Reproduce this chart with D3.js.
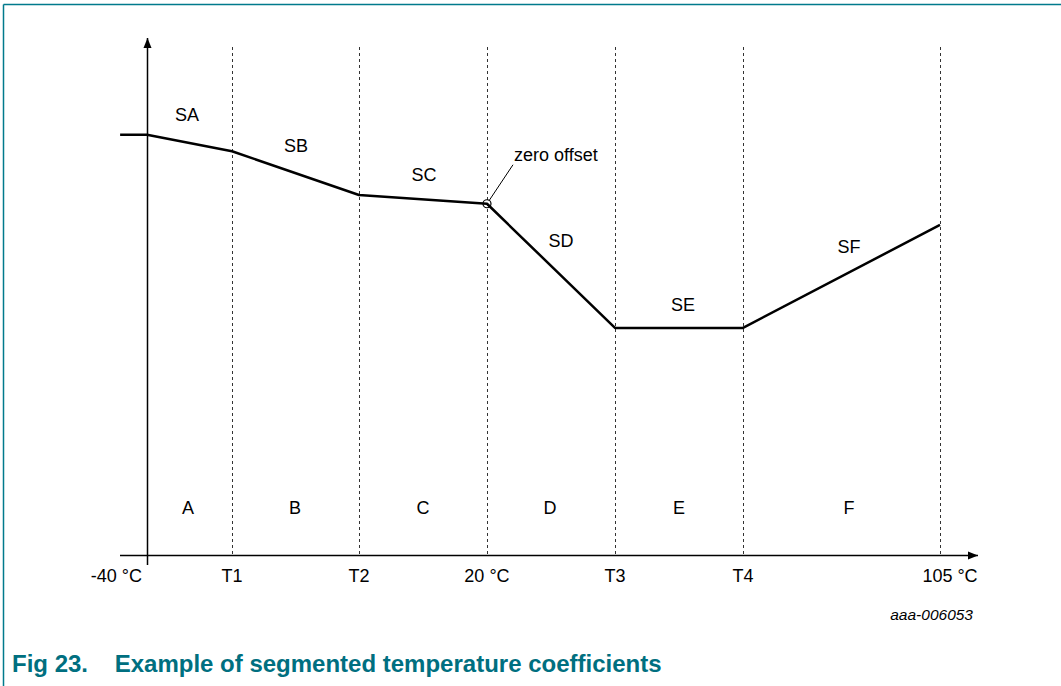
<!DOCTYPE html>
<html>
<head>
<meta charset="utf-8">
<script src="https://cdn.jsdelivr.net/npm/d3@7"></script>
<style>
  body { margin: 0; background: #fff; }
  svg { display: block; font-family: "Liberation Sans", Arial, sans-serif; }
</style>
</head>
<body>
<svg width="1061" height="686"></svg>
<script>
// breakpoints along the temperature axis (relative units) and their labels
var tickLabels = ["-40 °C", "T1", "T2", "20 °C", "T3", "T4", "105 °C"];
var tickPos = [0, 0.664, 1.656, 2.656, 3.656, 4.656, 6.195];

// segment regions and slope names
var regions = ["A", "B", "C", "D", "E", "F"];
var slopes = ["SA", "SB", "SC", "SD", "SE", "SF"];

// coefficient curve (x in axis units, y in relative level 0..100)
var curveX = [-0.21, 0, 0.664, 1.656, 2.656, 3.656, 4.656, 6.195];
var curveY = [81.6, 81.6, 78.4, 69.9, 68.2, 44.1, 44.1, 64.1];

var teal = "#007a8c";

function main() {
    var svg = d3.select("svg");

    // frame lines (top and left) of the figure box
    svg.append("line").attr("x1", 3.5).attr("y1", 4.5).attr("x2", 1061).attr("y2", 4.5)
        .attr("stroke", teal).attr("stroke-width", 1.5);
    svg.append("line").attr("x1", 3.5).attr("y1", 4.5).attr("x2", 3.5).attr("y2", 686)
        .attr("stroke", teal).attr("stroke-width", 1.5);

    var xScale = d3.scaleLinear().domain([0, tickPos[6]]).range([147, 940]),
        yScale = d3.scaleLinear().domain([0, 100]).range([555, 40]);

    // dashed dividers
    svg.selectAll(".divider")
        .data(tickPos.slice(1))
        .enter().append("line")
        .attr("class", "divider")
        .attr("x1", function(d) { return Math.round(xScale(d)) + 0.5; })
        .attr("x2", function(d) { return Math.round(xScale(d)) + 0.5; })
        .attr("y1", 47)
        .attr("y2", 555)
        .attr("stroke", "#333")
        .attr("stroke-width", 1)
        .attr("stroke-dasharray", "3,3");

    // arrow marker
    svg.append("defs").append("marker")
        .attr("id", "arrow")
        .attr("viewBox", "0 0 10 10")
        .attr("refX", 10).attr("refY", 5)
        .attr("markerWidth", 10).attr("markerHeight", 10)
        .attr("markerUnits", "userSpaceOnUse")
        .attr("orient", "auto")
        .append("path").attr("d", "M0,1 L10,5 L0,9 Z").attr("fill", "#000");

    // x axis
    svg.append("line")
        .attr("x1", 120).attr("y1", 555.5).attr("x2", 978).attr("y2", 555.5)
        .attr("stroke", "#000").attr("stroke-width", 1.5)
        .attr("marker-end", "url(#arrow)");

    // y axis
    svg.append("line")
        .attr("x1", 147.5).attr("y1", 565).attr("x2", 147.5).attr("y2", 38)
        .attr("stroke", "#000").attr("stroke-width", 1.5)
        .attr("marker-end", "url(#arrow)");

    // tick labels
    svg.selectAll(".tick-label")
        .data(tickLabels)
        .enter().append("text")
        .attr("class", "tick-label")
        .attr("x", function(d, i) {
            if (i === 0) return xScale(tickPos[i]) - 5;
            if (i === 6) return xScale(tickPos[i]) + 10;
            return xScale(tickPos[i]);
        })
        .attr("y", 582)
        .attr("text-anchor", function(d, i) { return i === 0 ? "end" : "middle"; })
        .attr("font-size", "18px")
        .attr("fill", "#000")
        .text(function(d) { return d; });

    // region labels
    var regionCx = [188, 295, 423, 550, 679, 849];
    svg.selectAll(".region")
        .data(regions)
        .enter().append("text")
        .attr("class", "region")
        .attr("x", function(d, i) { return regionCx[i]; })
        .attr("y", 514)
        .attr("text-anchor", "middle")
        .attr("font-size", "18px")
        .text(function(d) { return d; });

    // curve
    var pts = curveX.map(function(d, i) { return [d, curveY[i]]; });
    var line = d3.line()
        .x(function(d) { return xScale(d[0]); })
        .y(function(d) { return yScale(d[1]); });
    svg.append("path")
        .datum(pts)
        .attr("d", line)
        .attr("fill", "none")
        .attr("stroke", "#000")
        .attr("stroke-width", 2.5)
        .attr("stroke-linejoin", "round");

    // slope labels
    var slopeXY = [[187, 121], [296, 152], [424, 181], [561, 247], [683, 311], [849, 253]];
    svg.selectAll(".slope")
        .data(slopes)
        .enter().append("text")
        .attr("class", "slope")
        .attr("x", function(d, i) { return slopeXY[i][0]; })
        .attr("y", function(d, i) { return slopeXY[i][1]; })
        .attr("text-anchor", "middle")
        .attr("font-size", "18px")
        .text(function(d) { return d; });

    // zero offset marker
    var zx = xScale(tickPos[3]), zy = yScale(curveY[4]);
    svg.append("circle")
        .attr("cx", zx).attr("cy", zy).attr("r", 4)
        .attr("fill", "none").attr("stroke", "#000").attr("stroke-width", 1.2);
    svg.append("line")
        .attr("x1", zx + 2).attr("y1", zy - 3).attr("x2", zx + 26).attr("y2", zy - 39)
        .attr("stroke", "#000").attr("stroke-width", 1);
    svg.append("text")
        .attr("x", 514).attr("y", 161)
        .attr("font-size", "18px")
        .text("zero offset");

    // figure id
    svg.append("text")
        .attr("x", 973).attr("y", 620)
        .attr("text-anchor", "end")
        .attr("font-size", "15.5px")
        .attr("font-style", "italic")
        .text("aaa-006053");

    // caption
    svg.append("text")
        .attr("x", 12).attr("y", 672)
        .attr("font-size", "24px")
        .attr("font-weight", "bold")
        .attr("fill", "#006f80")
        .attr("xml:space", "preserve")
        .text("Fig 23.    Example of segmented temperature coefficients");
}

main();
</script>
</body>
</html>
